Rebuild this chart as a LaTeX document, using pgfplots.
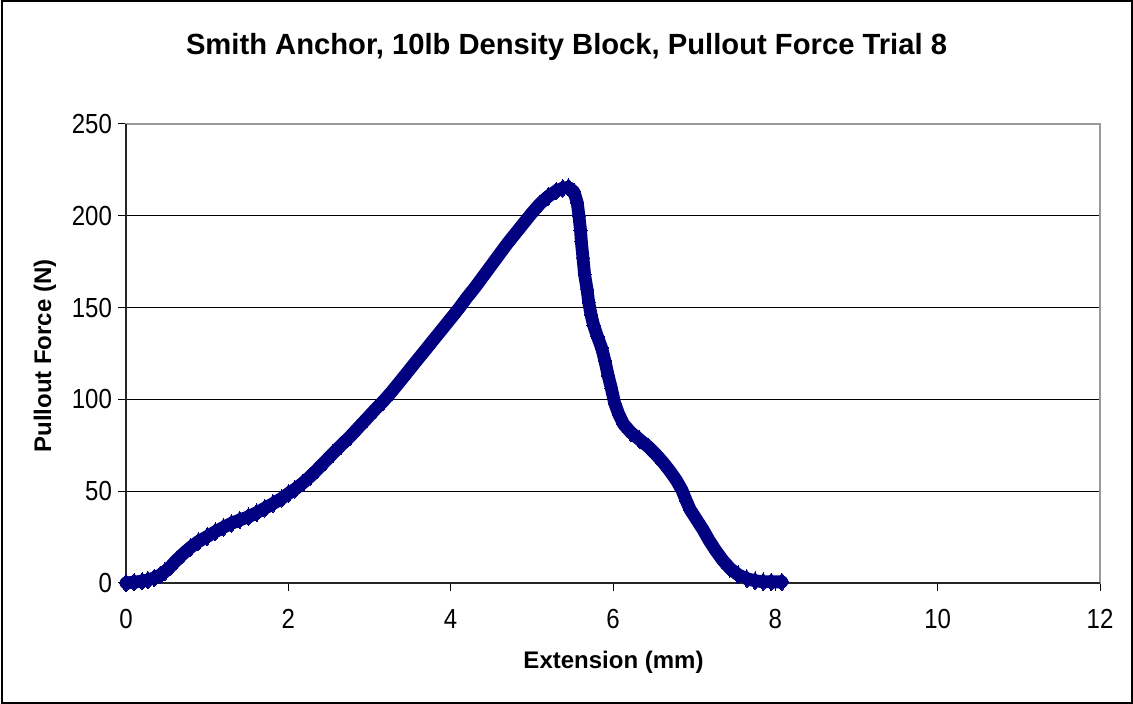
\documentclass[border=0pt]{standalone}
\usepackage{fontspec}
\setmainfont{Liberation Sans}
\usepackage{pgfplots}
\pgfplotsset{compat=1.18}
\definecolor{navyc}{RGB}{0,0,128}
\begin{document}
\begin{tikzpicture}
\useasboundingbox (0,0) rectangle (566.5pt,352pt);
\fill[white] (0,0) rectangle (566.5pt,352pt);
\draw[black,line width=1pt] (1pt,0.6pt) rectangle (565.8pt,351.4pt);
\begin{axis}[
  at={(63pt,60.5pt)}, anchor=south west,
  scale only axis, width=487pt, height=229.5pt,
  xmin=0, xmax=12, ymin=0, ymax=250,
  xtick={0,2,...,12}, ytick={0,50,...,250},
  xtick pos=bottom, ytick pos=left,
  tick align=outside, major tick length=4pt,
  tick style={black, line width=0.5pt},
  ymajorgrids, major grid style={black, line width=0.5pt},
  axis line style={draw=gray!80, line width=0.6pt},
  /pgf/number format/assume math mode=true,
  ticklabel style={font=\fontsize{12}{13}\selectfont},
  xticklabel={\scalebox{1}[1.15]{\pgfmathprintnumber{\tick}}},
  yticklabel={\scalebox{1}[1.15]{\pgfmathprintnumber{\tick}}},
  xticklabel style={yshift=-5.5pt},
  yticklabel style={xshift=0.5pt},
  clip=false,
]
\addplot[navyc, line width=6.4pt, line join=round, line cap=round,
  mark=diamond*, mark size=4.4pt, mark options={line width=0pt, fill=navyc, draw=navyc}]
coordinates {
(0.00,0.0) (0.10,0.5) (0.20,1.0) (0.27,1.6) (0.35,2.8) (0.42,4.3) (0.48,6.2)
(0.55,9.0) (0.62,12.3) (0.69,15.3) (0.79,19.2) (0.89,22.5) (1.00,25.3)
(1.10,27.9) (1.20,30.3) (1.30,32.5) (1.40,34.3) (1.51,36.1) (1.61,38.3)
(1.71,40.7) (1.81,43.2) (1.92,46.1) (2.00,48.7) (2.08,51.0) (2.18,54.5)
(2.27,58.0) (2.35,61.5) (2.45,66.0) (2.55,70.6) (2.65,75.0) (2.76,79.7)
(2.86,84.5) (2.97,89.7) (3.07,94.5) (3.17,99.0) (3.27,104.0) (3.38,110.0)
(3.48,115.5) (3.58,121.0) (3.69,127.0) (3.79,132.5) (3.90,138.5) (4.00,144.0)
(4.10,149.5) (4.20,155.5) (4.30,161.0) (4.40,167.0) (4.50,173.0) (4.60,179.0)
(4.70,185.0) (4.80,190.5) (4.90,196.0) (5.00,201.5) (5.10,206.5) (5.20,210.5)
(5.30,213.5) (5.38,215.0) (5.45,215.5) (5.52,213.0) (5.56,207.0) (5.58,200.0)
(5.60,192.0) (5.61,186.0) (5.63,177.0) (5.65,168.0) (5.68,160.0) (5.70,153.0)
(5.73,146.0) (5.76,140.5) (5.81,134.0) (5.86,128.0) (5.90,121.0) (5.94,113.0)
(5.98,106.0) (6.02,98.0) (6.07,92.0) (6.13,86.5) (6.22,82.0) (6.33,78.0)
(6.44,74.0) (6.54,69.5) (6.62,65.5) (6.70,61.0) (6.78,56.0) (6.85,50.5)
(6.90,45.0) (6.95,40.0) (7.03,34.5) (7.11,29.0) (7.18,23.5) (7.26,18.0)
(7.35,12.5) (7.44,8.0) (7.54,4.5) (7.65,2.3) (7.75,1.2) (7.85,0.7)
(7.95,0.6) (8.08,0.6)
};
\draw[black!85, line width=0.6pt] (rel axis cs:0,1) -- (rel axis cs:0,0) -- (rel axis cs:1,0);
\end{axis}
\node[font=\fontsize{14.6}{16}\selectfont\bfseries] at (283.25pt,328.5pt) {Smith Anchor, 10lb Density Block, Pullout Force Trial 8};
\node[font=\fontsize{12}{14}\selectfont\bfseries] at (306.75pt,21pt) {Extension (mm)};
\node[font=\fontsize{12}{14}\selectfont\bfseries, rotate=90] at (22.5pt,174pt) {Pullout Force (N)};
\end{tikzpicture}
\end{document}
